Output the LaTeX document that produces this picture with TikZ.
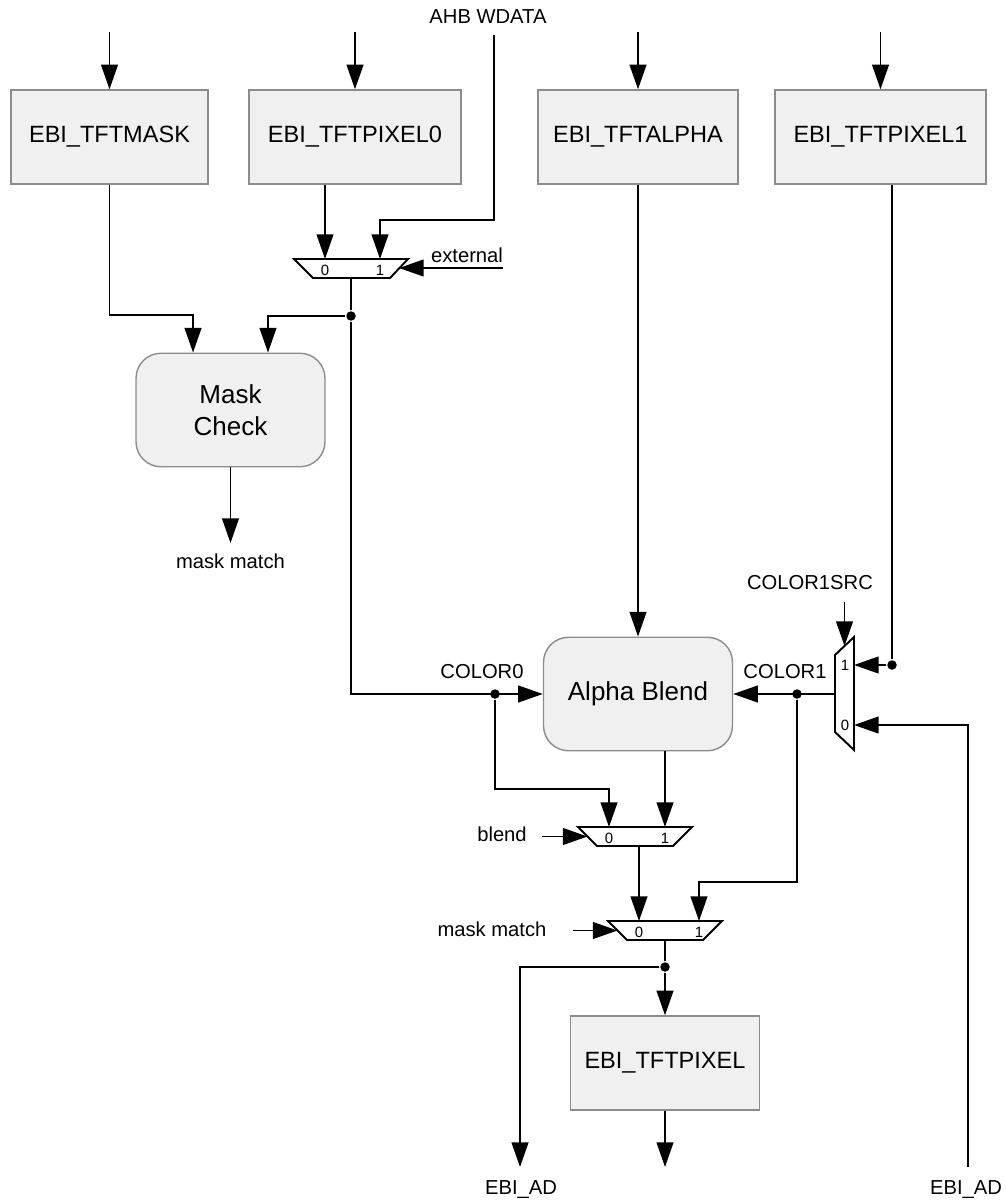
\documentclass[tikz,border=0pt]{standalone}
\usepackage{fontspec}
\setmainfont{Liberation Sans}
\usetikzlibrary{arrows.meta}

\tikzset{
  reg/.style={draw=black!45, fill=black!6, line width=0.8pt, minimum width=#1,
    minimum height=1.88cm, inner sep=0pt, font=\fontsize{13.4}{16}\selectfont},
  blk/.style={draw=black!45, fill=black!6, line width=0.8pt, rounded corners=0.5cm,
    minimum width=3.78cm, minimum height=2.27cm, align=center,
    font=\fontsize{14.8}{18}\selectfont},
  sig/.style={inner sep=0pt, font=\fontsize{11.5}{14}\selectfont},
  muxpin/.style={inner sep=0pt, font=\fontsize{8.5}{10}\selectfont},
  jn/.style={circle, fill=black, inner sep=0pt, minimum size=0.19cm},
}

\begin{document}
\begin{tikzpicture}[x=0.02cm, y=-0.02cm, >={Triangle[length=14pt,width=9.5pt]}, line width=1.1pt]
  \useasboundingbox (0,0) rectangle (1006,1203);

  % Registers (top row)
  \node[reg=3.94cm] (mask) at (109.5,137) {EBI\_TFTMASK};
  \node[reg=4.24cm] (pix0) at (355,137) {EBI\_TFTPIXEL0};
  \node[reg=4.0cm] (alpha) at (638,137) {EBI\_TFTALPHA};
  \node[reg=4.22cm] (pix1) at (880.5,137) {EBI\_TFTPIXEL1};
  \foreach \r in {mask, pix0, alpha, pix1}
    \draw[->] (\r.north) ++(0,-57) -- (\r.north);

  % Blocks
  \node[blk] (maskchk) at (230.5,410) {Mask\\Check};
  \node[blk] (blend) at (638,694) {Alpha Blend};
  \node[reg=3.78cm] (pix) at (665,1063) {EBI\_TFTPIXEL};

  % Mux: pixel0 / external
  \draw (294,259) -- (408,259) -- (390,278) -- (313,278) -- cycle;
  \coordinate (m0a) at (325,259);
  \coordinate (m0b) at (380,259);
  \coordinate (m0s) at (399,268);
  \coordinate (m0o) at (351,278);
  \node[muxpin] (m0l0) at (325,270) {0};
  \node[muxpin] (m0l1) at (380,270) {1};

  % Mux: COLOR1SRC
  \draw (835,655) -- (854,637) -- (854,750) -- (835,732) -- cycle;
  \coordinate (m3a) at (854,665);
  \coordinate (m3b) at (854,725);
  \coordinate (m3s) at (844.5,646);
  \coordinate (m3o) at (835,694);
  \node[muxpin] (m3l1) at (845,665) {1};
  \node[muxpin] (m3l0) at (845,725) {0};

  % Mux: blend
  \draw (578,827) -- (692,827) -- (673,846) -- (597,846) -- cycle;
  \coordinate (m1a) at (609,827);
  \coordinate (m1b) at (665,827);
  \coordinate (m1s) at (587.5,836.5);
  \coordinate (m1o) at (639,846);
  \node[muxpin] (m1l0) at (609,838) {0};
  \node[muxpin] (m1l1) at (665,838) {1};

  % Mux: mask match
  \draw (608,921) -- (722,921) -- (703,940) -- (627,940) -- cycle;
  \coordinate (m2a) at (639,921);
  \coordinate (m2b) at (699,921);
  \coordinate (m2s) at (617.5,930.5);
  \coordinate (m2o) at (665,940);
  \node[muxpin] (m2l0) at (639,932) {0};
  \node[muxpin] (m2l1) at (699,932) {1};

  % Signal labels and free ends
  \node[sig] (ahb) at (488,17) {AHB WDATA};
  \coordinate (ahbtop) at (494,35);
  \node[sig] (ext) at (467,255) {external};
  \coordinate (extin) at (503,268);
  \node[sig] (mm0) at (230.5,561) {mask match};
  \coordinate (mmout) at (230.5,543);
  \node[sig] (col0) at (482,672) {COLOR0};
  \node[sig] (col1) at (785,672) {COLOR1};
  \node[sig] (c1src) at (810,583) {COLOR1SRC};
  \coordinate (c1sin) at (844.5,602);
  \node[sig] (bl) at (502,834) {blend};
  \coordinate (blin) at (542,836.5);
  \node[sig] (mm1) at (492,929) {mask match};
  \coordinate (mmin) at (573,930.5);
  \node[sig] (adl) at (521,1190) {EBI\_AD};
  \coordinate (adout) at (520,1167);
  \coordinate (pixout) at (665,1167);
  \node[sig] (adr) at (966,1190) {EBI\_AD};
  \coordinate (adin) at (968,1167);

  % Junctions
  \node[jn] (j0) at (351,316) {};
  \node[jn] (c0) at (495,694) {};
  \node[jn] (c1) at (797,694) {};
  \node[jn] (j1) at (892,665) {};
  \node[jn] (j2) at (665,967) {};

  % Wires: top mux
  \draw[->] (pix0.south -| m0a) -- (m0a);
  \draw[->] (ahbtop) -- ++(0,185) -| (m0b);
  \draw[->] (extin) -- (m0s);
  \draw (m0o) -- (j0);

  % Wires: mask check
  \draw[->] (mask.south) -- ++(0,130) -| ([xshift=-0.75cm]maskchk.north);
  \draw[->] (j0) -| ([xshift=0.75cm]maskchk.north);
  \draw[->] (maskchk.south) -- (mmout);

  % Wires: alpha blend
  \draw[->] (j0) |- (blend.west);
  \draw[->] (alpha.south) -- (blend.north);
  \draw (pix1.south -| j1) -- (j1);
  \draw[->] (j1) -- (m3a);
  \draw[->] (adin) |- (m3b);
  \draw[->] (c1sin) -- (m3s);
  \draw[->] (m3o) -- (blend.east);

  % Wires: output muxes
  \draw[->] (c0) -- ++(0,95) -| (m1a);
  \draw[->] (blend.south -| m1b) -- (m1b);
  \draw[->] (blin) -- (m1s);
  \draw[->] (m1o) -- (m2a);
  \draw[->] (c1) -- ++(0,188) -| (m2b);
  \draw[->] (mmin) -- (m2s);
  \draw (m2o) -- (j2);
  \draw[->] (j2) -- (pix.north);
  \draw[->] (j2) -| (adout);
  \draw[->] (pix.south) -- (pixout);
\end{tikzpicture}
\end{document}
